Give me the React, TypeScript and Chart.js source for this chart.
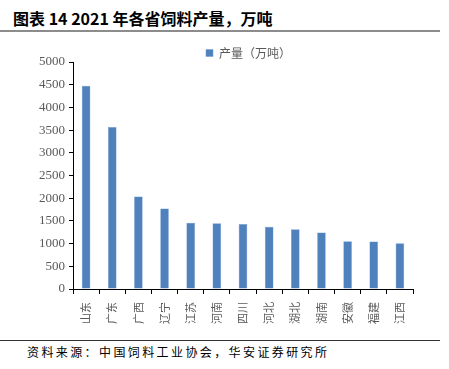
import React, { useEffect, useRef } from "react";
import { Chart, registerables } from "chart.js";

Chart.register(...registerables);

const categories = ["山东", "广东", "广西", "辽宁", "江苏", "河南", "四川", "河北", "湖北", "湖南", "安徽", "福建", "江西"];
const values = [4475, 3570, 2035, 1775, 1460, 1450, 1430, 1370, 1315, 1243, 1050, 1048, 1005];
const yTicks = [0, 500, 1000, 1500, 2000, 2500, 3000, 3500, 4000, 4500, 5000];
const seriesName = "产量（万吨）";
const titleText = "图表 14 2021 年各省饲料产量，万吨";
const sourceText = "资料来源：中国饲料工业协会，华安证券研究所";

const legendShift = {
  id: "legendShift",
  afterLayout(chart: any) {
    const lg = chart.legend;
    if (lg) {
      lg.top += 7;
      lg.bottom += 7;
      lg.left += 42;
      lg.right += 42;
    }
  },
};

export default function App() {
  const ref = useRef<HTMLCanvasElement | null>(null);
  useEffect(() => {
    if (!ref.current) return;
    const chart = new Chart(ref.current, {
      type: "bar",
      data: {
        labels: categories,
        datasets: [
          {
            label: seriesName,
            data: values,
            backgroundColor: "#4F81BD",
            borderColor: "#6F9AD0",
            borderWidth: 0.5,
            categoryPercentage: 0.33,
            barPercentage: 1,
          },
        ],
      },
      plugins: [legendShift],
      options: {
        animation: false,
        responsive: false,
        maintainAspectRatio: false,
        layout: { padding: { left: 0, right: 36, top: 4, bottom: 0 } },
        plugins: {
          tooltip: { enabled: false },
          legend: {
            display: true,
            position: "top",
            labels: {
              boxWidth: 7,
              boxHeight: 7,
              color: "#595959",
              font: { family: "'Noto Sans CJK SC'", size: 12 },
              padding: 0,
            },
          },
        },
        scales: {
          x: {
            grid: {
              drawOnChartArea: false,
              drawTicks: true,
              tickLength: 5,
              color: "#000",
              offset: true,
            },
            border: { color: "#000", width: 1 },
            ticks: {
              autoSkip: false,
              maxRotation: 90,
              minRotation: 90,
              color: "#595959",
              font: { family: "'Noto Sans CJK SC'", size: 11 },
              padding: 8,
            },
            afterFit: (s: any) => {
              s.height = 46;
            },
          },
          y: {
            min: 0,
            max: 5000,
            afterBuildTicks: (s: any) => {
              s.ticks = yTicks.map((v) => ({ value: v }));
            },
            grid: {
              drawOnChartArea: false,
              drawTicks: true,
              tickLength: 4,
              color: "#000",
            },
            border: { color: "#000", width: 1 },
            ticks: {
              color: "#595959",
              font: { family: "'Liberation Serif'", size: 13 },
              padding: 4,
              callback: (v: any) => String(v),
            },
            afterFit: (s: any) => {
              s.width = 73;
            },
          },
        },
      },
    });
    return () => chart.destroy();
  }, []);

  return (
    <div style={{ position: "fixed", left: 0, top: 0, width: 449, height: 369, background: "#fff", overflow: "hidden" }}>
      <div
        style={{
          position: "absolute",
          left: 13,
          top: 7,
          fontFamily: "'Noto Sans CJK SC'",
          fontWeight: 700,
          fontSize: 16,
          lineHeight: "22px",
          color: "#000",
          whiteSpace: "nowrap",
        }}
      >
        {titleText}
      </div>
      <div style={{ position: "absolute", left: 0, top: 30, width: 440, height: 2, background: "#8c8c8c" }} />
      <canvas ref={ref} width={449} height={299} style={{ position: "absolute", left: 0, top: 36, width: 449, height: 299 }} />
      <div style={{ position: "absolute", left: 0, top: 340, width: 440, height: 1, background: "#333" }} />
      <div
        style={{
          position: "absolute",
          left: 27,
          top: 343,
          fontFamily: "'Noto Sans CJK SC'",
          fontSize: 12,
          letterSpacing: 2.4,
          lineHeight: "18px",
          color: "#000",
          whiteSpace: "nowrap",
        }}
      >
        {sourceText}
      </div>
    </div>
  );
}
